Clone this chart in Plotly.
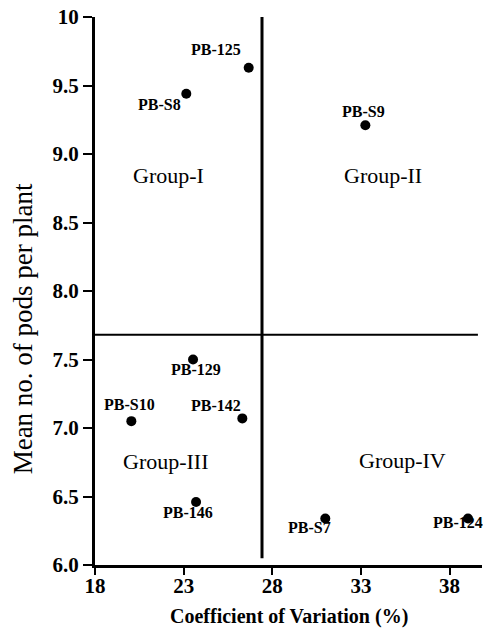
import plotly.graph_objects as go

genotypes = ["PB-125", "PB-S8", "PB-S9", "PB-129", "PB-S10", "PB-142", "PB-146", "PB-S7", "PB-124"]
cv_values = [26.67, 23.15, 33.25, 23.53, 20.05, 26.31, 23.70, 30.99, 39.04]
mean_pods = [9.63, 9.44, 9.21, 7.50, 7.05, 7.07, 6.46, 6.34, 6.34]

cv_mean = 27.42
pods_mean = 7.68

group_names = ["Group-I", "Group-II", "Group-III", "Group-IV"]
group_x = [22.17, 34.23, 22.03, 35.34]
group_y = [8.84, 8.84, 6.755, 6.76]

x_ticks = [18, 23, 28, 33, 38]
y_ticks = [6.0, 6.5, 7.0, 7.5, 8.0, 8.5, 9.0, 9.5, 10.0]
y_ticktext = ["6.0", "6.5", "7.0", "7.5", "8.0", "8.5", "9.0", "9.5", "10"]

x_title = "Coefficient of Variation (%)"
y_title = "Mean no. of pods per plant"

# label pixel offsets (styling)
label_shift = {
    "PB-125": (-33, 18), "PB-S8": (-27, -11), "PB-S9": (-2, 14), "PB-129": (3, -10),
    "PB-S10": (-2, 17), "PB-142": (-26, 13), "PB-146": (-8, -11), "PB-S7": (-16, -9),
    "PB-124": (-10, -4),
}

FONT = "Liberation Serif"

fig = go.Figure()
fig.add_trace(go.Scatter(
    x=cv_values, y=mean_pods, mode="markers", cliponaxis=False,
    marker=dict(color="black", size=10), showlegend=False, hoverinfo="skip"))

annotations = []
for name, xv, yv in zip(genotypes, cv_values, mean_pods):
    dx, dy = label_shift[name]
    annotations.append(dict(x=xv, y=yv, xref="x", yref="y", text="<b>" + name + "</b>",
                            showarrow=False, xshift=dx, yshift=dy,
                            font=dict(family=FONT, size=16, color="black")))
for name, xv, yv in zip(group_names, group_x, group_y):
    annotations.append(dict(x=xv, y=yv, xref="x", yref="y", text=name, showarrow=False,
                            font=dict(family=FONT, size=22, color="black")))
annotations.append(dict(x=0.5, y=0, xref="paper", yref="paper", text="<b>" + x_title + "</b>",
                        showarrow=False, yanchor="middle", yshift=-51,
                        font=dict(family=FONT, size=20, color="black")))
annotations.append(dict(x=0, y=0.43, xref="paper", yref="paper", text=y_title,
                        showarrow=False, textangle=-90, xanchor="center", yanchor="middle",
                        xshift=-72, font=dict(family=FONT, size=27, color="black")))

shapes = [
    dict(type="line", xref="x", yref="y", x0=cv_mean, x1=cv_mean, y0=6.05, y1=10.02,
         line=dict(color="black", width=3)),
    dict(type="line", xref="x", yref="y", x0=18, x1=39.6, y0=pods_mean, y1=pods_mean,
         line=dict(color="black", width=2)),
]

fig.update_layout(
    width=483, height=630,
    margin=dict(l=95, r=1, t=17, b=65),
    plot_bgcolor="white", paper_bgcolor="white",
    annotations=annotations, shapes=shapes,
    font=dict(family=FONT, color="black"),
    xaxis=dict(range=[18, 39.83], tickvals=x_ticks, ticktext=["<b>%d</b>" % v for v in x_ticks],
               showgrid=False, zeroline=False,
               automargin=False, showline=True, linecolor="black", linewidth=3,
               ticks="outside", ticklen=7, tickwidth=2, tickcolor="black",
               ticklabelstandoff=-7,
               tickfont=dict(family=FONT, size=21, color="black")),
    yaxis=dict(range=[6, 10], tickvals=y_ticks, ticktext=["<b>%s</b>" % t for t in y_ticktext],
               showgrid=False,
               zeroline=False, automargin=False, showline=True, linecolor="black",
               linewidth=3, ticks="outside", ticklen=9, tickwidth=2, tickcolor="black",
               tickfont=dict(family=FONT, size=21, color="black")),
)

fig.write_html("out.html", config={"displayModeBar": False},
               post_script="document.body.style.margin='0';document.body.style.overflow='hidden';")
